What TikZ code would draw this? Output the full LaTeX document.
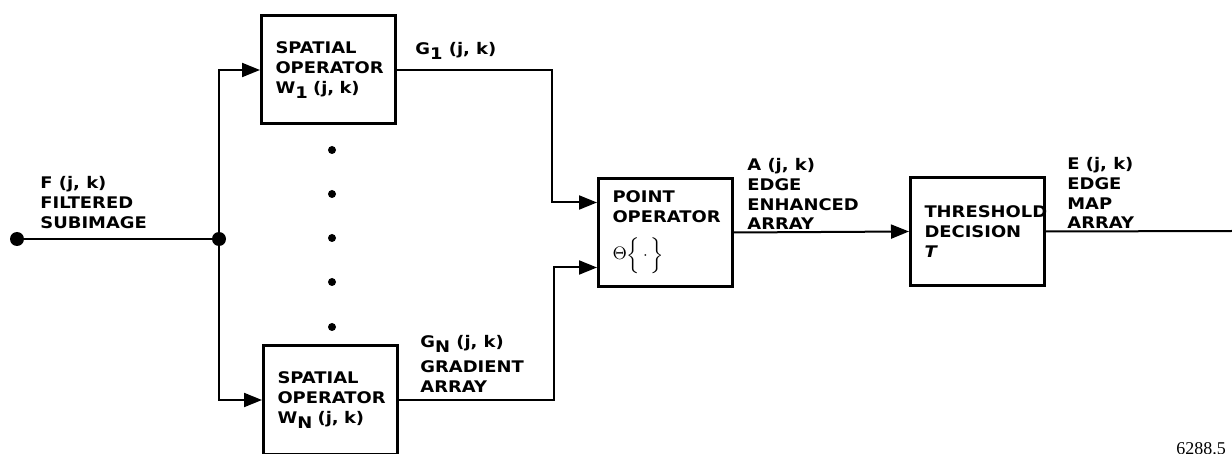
\documentclass[tikz,border=0pt]{standalone}
\usepackage{fontspec}
\setmainfont{DejaVu Sans}[FakeStretch=1.12]
\newfontfamily\tagfont{Liberation Serif}
\usetikzlibrary{arrows.meta, positioning}
\newcommand{\lowsub}[1]{\raisebox{-2.5pt}{\footnotesize #1}}

\begin{document}
\begin{tikzpicture}[
x=0.5pt, y=-0.5pt,
every node/.style={font=\bfseries\fontsize{8}{9.9}\selectfont},
block/.style={
    rectangle,
    draw=black,
    line width=1.5pt,
    minimum width=67pt,
    minimum height=54pt,
    inner xsep=7pt,
    text width=53pt,
    align=left
},
tag/.style={anchor=north west, inner sep=0pt, align=left},
bigdot/.style={circle, fill=black, inner sep=0pt, minimum size=7pt},
smalldot/.style={circle, fill=black, inner sep=0pt, minimum size=4pt},
arrow/.style={
    -{Triangle[length=9pt,width=7pt]},
    line width=1pt
},
wire/.style={line width=1pt}
]

\useasboundingbox (0,0) rectangle (1232,454);

% blocks
\node (spat1) [block] at (328.5,70) {SPATIAL\\OPERATOR\\W\lowsub{1} (j, k)};
\node (spatN) [block] at (330.5,400) {SPATIAL\\OPERATOR\\W\lowsub{N} (j, k)};
\node (point) [block] at (665.5,232.5) {POINT\\OPERATOR\\[6pt]{\small$\Theta$}$\Bigl\{\,\cdot\,\Bigr\}$};
\node (thresh) [block] at (977.5,231.5) {THRESHOLD\\DECISION\\\textit{T}};

% input and branch point
\node (in) [bigdot] at (17,239) {};
\node (split) [bigdot] at (219,239) {};
\coordinate (out) at (1232,231);

% dots between the spatial operators
\foreach \y in {150,194,238,282,327}
    \node (dot\y) [smalldot] at (332,\y) {};

% labels
\node (flabel) [tag] at (40,176) {F (j, k)\\FILTERED\\SUBIMAGE};
\node (g1label) [tag] at (415,42) {G\lowsub{1} (j, k)};
\node (gnlabel) [tag] at (420,335) {G\lowsub{N} (j, k)\\[2.5pt]GRADIENT\\ARRAY};
\node (alabel) [tag] at (747,158) {A (j, k)\\EDGE\\ENHANCED\\ARRAY};
\node (elabel) [tag] at (1067,157) {E (j, k)\\EDGE\\MAP\\ARRAY};
\node (fignum) [tag, font=\tagfont\fontsize{9}{10}\selectfont] at (1176,442) {6288.5};

% connectors
\coordinate (turn1) at (552,0);
\coordinate (turnN) at (554,0);
\coordinate (pin1) at ([yshift=15pt]point.west);
\coordinate (pinN) at ([yshift=-17.5pt]point.west);

\draw [wire] (in) -- (split);
\draw [arrow] (split) |- (spat1.west);
\draw [arrow] (split) |- (spatN.west);
\draw [arrow] (spat1.east) -- (spat1.east -| turn1) |- (pin1);
\draw [arrow] (spatN.east) -- (spatN.east -| turnN) |- (pinN);
\draw [arrow] (point.east) -- (thresh.west);
\draw [wire] (thresh.east) -- (out);

\end{tikzpicture}
\end{document}
